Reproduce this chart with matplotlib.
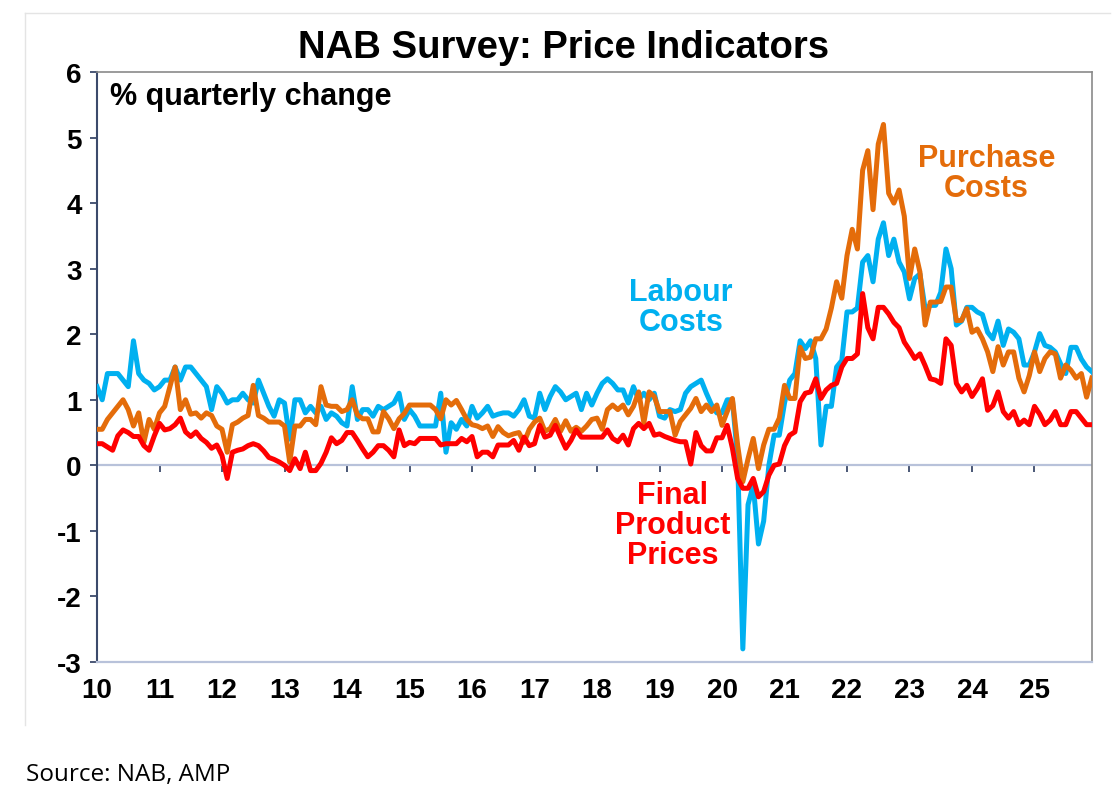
import numpy as np
import matplotlib
matplotlib.use('Agg')
import matplotlib.pyplot as plt
from matplotlib.lines import Line2D

plt.rcParams['font.family'] = ['Liberation Sans', 'DejaVu Sans']

# monthly readings, Jan 2010 - Dec 2025 (% quarterly change)
labour = (
    [1.2, 1.0, 1.4, 1.4, 1.4, 1.3, 1.2, 1.9, 1.4, 1.3, 1.25, 1.15]      # 2010
    + [1.2, 1.3, 1.3, 1.5, 1.3, 1.5, 1.5, 1.4, 1.3, 1.2, 0.85, 1.2]     # 2011
    + [1.1, 0.95, 1.0, 1.0, 1.1, 1.0, 0.95, 1.3, 1.1, 0.9, 0.75, 1.0]   # 2012
    + [0.95, 0.4, 1.0, 1.0, 0.8, 0.9, 0.8, 0.9, 0.7, 0.8, 0.75, 0.65]   # 2013
    + [0.6, 1.2, 0.7, 0.85, 0.85, 0.75, 0.9, 0.85, 0.9, 0.95, 1.1, 0.7]  # 2014
    + [0.85, 0.75, 0.6, 0.6, 0.6, 0.6, 1.1, 0.2, 0.65, 0.55, 0.7, 0.6]  # 2015
    + [0.9, 0.72, 0.8, 0.9, 0.75, 0.78, 0.8, 0.8, 0.75, 0.85, 1.0, 0.75]  # 2016
    + [0.72, 1.1, 0.85, 1.05, 1.2, 1.12, 1.0, 1.05, 1.1, 0.85, 1.1, 0.92]  # 2017
    + [1.1, 1.25, 1.32, 1.25, 1.15, 1.15, 0.95, 1.2, 1.0, 1.1, 1.0, 1.1]  # 2018
    + [0.75, 0.72, 0.85, 0.82, 0.85, 1.1, 1.2, 1.25, 1.3, 1.1, 0.92, 0.8]  # 2019
    + [0.8, 1.0, 1.0, 0.1, -2.8, -0.6, -0.3, -1.2, -0.85, 0.0, 0.46, 0.46]  # 2020
    + [0.95, 1.3, 1.4, 1.9, 1.78, 1.9, 1.63, 0.31, 0.9, 0.9, 1.5, 1.6]  # 2021
    + [2.34, 2.34, 2.4, 3.1, 3.2, 2.8, 3.45, 3.7, 3.2, 3.45, 3.1, 2.95]  # 2022
    + [2.54, 2.85, 2.92, 2.39, 2.44, 2.44, 2.64, 3.3, 3.0, 2.14, 2.2, 2.41]  # 2023
    + [2.41, 2.34, 2.3, 2.03, 1.93, 2.2, 1.83, 2.08, 2.03, 1.93, 1.53, 1.53]  # 2024
    + [1.73, 2.01, 1.83, 1.8, 1.73, 1.55, 1.4, 1.8, 1.8, 1.62, 1.5, 1.43]  # 2025
)

purchase = (
    [0.55, 0.55, 0.7, 0.8, 0.9, 1.0, 0.85, 0.6, 0.8, 0.35, 0.7, 0.55]
    + [0.8, 0.9, 1.2, 1.5, 0.85, 1.0, 0.78, 0.8, 0.72, 0.8, 0.76, 0.6]
    + [0.55, 0.2, 0.62, 0.66, 0.72, 0.76, 1.22, 0.76, 0.72, 0.66, 0.66, 0.66]
    + [0.6, 0.05, 0.6, 0.6, 0.7, 0.7, 0.62, 1.2, 0.92, 0.9, 0.9, 0.82]
    + [0.85, 1.0, 0.77, 0.71, 0.71, 0.51, 0.51, 0.82, 0.71, 0.56, 0.71, 0.79]
    + [0.92, 0.92, 0.92, 0.92, 0.92, 0.85, 0.71, 1.0, 0.92, 0.99, 0.85, 0.7]
    + [0.62, 0.6, 0.56, 0.6, 0.44, 0.59, 0.5, 0.45, 0.48, 0.5, 0.35, 0.55]
    + [0.66, 0.72, 0.52, 0.56, 0.7, 0.52, 0.68, 0.52, 0.58, 0.52, 0.6, 0.7]
    + [0.72, 0.55, 0.85, 0.92, 0.85, 0.92, 0.77, 0.9, 1.12, 0.65, 1.12, 1.05]
    + [0.82, 0.82, 0.82, 0.46, 0.67, 0.77, 0.87, 1.02, 0.82, 0.92, 0.82, 0.92]
    + [0.61, 0.82, 1.02, 0.31, -0.25, 0.1, 0.41, -0.05, 0.31, 0.55, 0.55, 0.72]
    + [1.22, 1.02, 1.02, 1.8, 1.63, 1.65, 1.93, 1.93, 2.08, 2.4, 2.8, 2.55]
    + [3.2, 3.6, 3.3, 4.5, 4.8, 3.9, 4.9, 5.2, 4.15, 4.0, 4.2, 3.8]
    + [2.85, 3.3, 2.95, 2.14, 2.49, 2.49, 2.5, 2.72, 2.72, 2.21, 2.21, 2.39]
    + [2.03, 2.08, 1.93, 1.73, 1.43, 1.81, 1.53, 1.73, 1.73, 1.33, 1.12, 1.37]
    + [1.73, 1.43, 1.63, 1.73, 1.7, 1.33, 1.53, 1.45, 1.33, 1.4, 1.04, 1.33]
)

final_prices = (
    [0.33, 0.33, 0.28, 0.23, 0.45, 0.54, 0.5, 0.44, 0.44, 0.3, 0.23, 0.45]
    + [0.64, 0.54, 0.56, 0.62, 0.72, 0.51, 0.44, 0.51, 0.41, 0.35, 0.26, 0.31]
    + [0.15, -0.2, 0.2, 0.23, 0.25, 0.3, 0.33, 0.3, 0.22, 0.12, 0.09, 0.05]
    + [0.0, -0.08, 0.1, -0.05, 0.2, -0.08, -0.08, 0.03, 0.2, 0.42, 0.33, 0.38]
    + [0.5, 0.5, 0.38, 0.25, 0.13, 0.2, 0.3, 0.3, 0.23, 0.13, 0.54, 0.3]
    + [0.35, 0.33, 0.41, 0.41, 0.41, 0.41, 0.31, 0.33, 0.33, 0.33, 0.41, 0.36]
    + [0.44, 0.13, 0.2, 0.2, 0.13, 0.31, 0.31, 0.31, 0.38, 0.23, 0.43, 0.3]
    + [0.33, 0.61, 0.43, 0.46, 0.61, 0.43, 0.26, 0.38, 0.54, 0.43, 0.43, 0.43]
    + [0.43, 0.43, 0.54, 0.41, 0.36, 0.46, 0.31, 0.56, 0.64, 0.56, 0.64, 0.46]
    + [0.48, 0.44, 0.41, 0.38, 0.36, 0.36, 0.02, 0.5, 0.3, 0.22, 0.22, 0.42]
    + [0.42, 0.61, 0.26, -0.2, -0.35, -0.35, -0.2, -0.48, -0.4, -0.15, 0.0, 0.02]
    + [0.3, 0.46, 0.51, 0.97, 1.1, 1.12, 1.32, 1.02, 1.15, 1.22, 1.25, 1.5]
    + [1.63, 1.63, 1.7, 2.62, 2.1, 1.93, 2.41, 2.41, 2.31, 2.18, 2.1, 1.88]
    + [1.76, 1.63, 1.7, 1.52, 1.32, 1.3, 1.25, 1.93, 1.83, 1.25, 1.12, 1.22]
    + [1.05, 1.17, 1.32, 0.84, 0.91, 1.12, 0.82, 0.72, 0.82, 0.62, 0.69, 0.62]
    + [0.9, 0.78, 0.62, 0.69, 0.82, 0.62, 0.62, 0.82, 0.82, 0.72, 0.62, 0.62]
)

years = list(range(2010, 2026))
year_labels = [str(y)[2:] for y in years]
y_ticks = list(range(-3, 7))

BLUE = '#00B0F0'
ORANGE = '#E46C0A'
RED = '#FF0000'
NAVY = '#3B4A6B'
PALE = '#B8C2DA'

months = 2010 + np.arange(len(labour)) / 12.0

W, H = 1117, 803
fig = plt.figure(figsize=(W / 100, H / 100), dpi=100)

# faint outer frame of the chart (only top and left edges show)
fig.lines.append(Line2D([25 / W, 1110 / W], [1 - 14 / H, 1 - 14 / H],
                        transform=fig.transFigure, color='#E4E4E4', lw=1))
fig.lines.append(Line2D([25 / W, 25 / W], [1 - 14 / H, 1 - 726 / H],
                        transform=fig.transFigure, color='#E4E4E4', lw=1))

ax = fig.add_axes([97 / W, 1 - 663 / H, (1092 - 97) / W, (663 - 73) / H])

ax.axhline(0, color=PALE, lw=1.6, zorder=1)
ax.plot(months, labour, color=BLUE, lw=3.6, zorder=3)
ax.plot(months, purchase, color=ORANGE, lw=3.6, zorder=4)
ax.plot(months, final_prices, color=RED, lw=3.6, zorder=5)

ax.set_xlim(2010, 2025.92)
ax.set_ylim(-3, 6)

ax.set_yticks(y_ticks)
ax.set_yticklabels([str(v) for v in y_ticks], fontsize=20, fontweight='bold')
ax.tick_params(axis='y', direction='out', length=5, width=1.3, color=NAVY, pad=6)

ax.set_xticks(years)
ax.set_xticklabels(year_labels, fontsize=20, fontweight='bold')
ax.tick_params(axis='x', length=0, pad=11)

ax.spines['left'].set_color(NAVY)
ax.spines['left'].set_linewidth(1.5)
ax.spines['bottom'].set_color(PALE)
ax.spines['bottom'].set_linewidth(1.6)
for side in ['top', 'right']:
    ax.spines[side].set_color('#8A8A8A')
    ax.spines[side].set_linewidth(1.2)

# year tick marks hanging off the zero line
zero_axis = ax.secondary_xaxis(1 / 3)
zero_axis.set_xticks(years)
zero_axis.set_xticklabels([])
zero_axis.tick_params(direction='out', length=5, width=1.3, color=NAVY)
zero_axis.spines['bottom'].set_visible(False)

fig.text(564 / W, 1 - 48 / H, 'NAB Survey: Price Indicators', ha='center', va='center',
         fontsize=27.5, fontweight='bold')
fig.text(110 / W, 1 - 97 / H, '% quarterly change', ha='left', va='center',
         fontsize=22, fontweight='bold')

ax.text(2019.34, 2.41, 'Labour\nCosts', color=BLUE, ha='center', va='center',
        fontsize=22, fontweight='bold', linespacing=1.0)
ax.text(2024.23, 4.46, 'Purchase\nCosts', color=ORANGE, ha='center', va='center',
        fontsize=22, fontweight='bold', linespacing=1.0)
ax.text(2019.21, -0.91, 'Final\nProduct\nPrices', color=RED, ha='center', va='center',
        fontsize=22, fontweight='bold', linespacing=1.0)

fig.text(26 / W, 1 - 775 / H, 'Source: NAB, AMP', ha='left', va='center',
         fontsize=17.5, family=['Open Sans', 'DejaVu Sans'])

fig.savefig('out.png', dpi=100)
